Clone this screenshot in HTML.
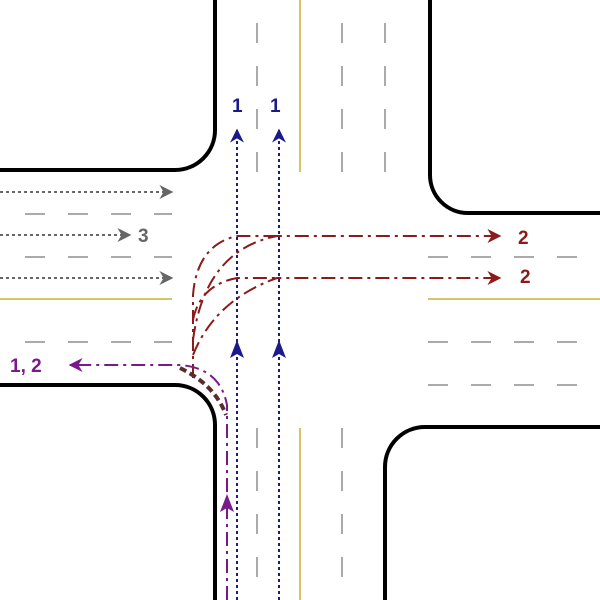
<!DOCTYPE html>
<html><head><style>body{margin:0;background:#fff}svg{display:block}</style></head><body>
<svg width="600" height="600" viewBox="0 0 600 600" xmlns="http://www.w3.org/2000/svg">
<defs>
<marker id="ab" viewBox="0 0 10 10" refX="9" refY="5" markerWidth="7" markerHeight="7" orient="auto"><path d="M0,0L10,5L0,10L3,5z" fill="#1a1a8c"/></marker>
<marker id="ag" viewBox="0 0 10 10" refX="9" refY="5" markerWidth="7" markerHeight="7" orient="auto"><path d="M0,0L10,5L0,10L3,5z" fill="#666"/></marker>
<marker id="ar" viewBox="0 0 10 10" refX="9" refY="5" markerWidth="7" markerHeight="7" orient="auto"><path d="M0,0L10,5L0,10L3,5z" fill="#8b1a1a"/></marker>
<marker id="ap" viewBox="0 0 10 10" refX="9" refY="5" markerWidth="7" markerHeight="7" orient="auto"><path d="M0,0L10,5L0,10L3,5z" fill="#7a1a8a"/></marker>
</defs>
<g fill="none" stroke="#000" stroke-width="4">
<path d="M215,0V130A40,40 0 0 1 175,170H0"/>
<path d="M430,0V175A38,38 0 0 0 468,213H600"/>
<path d="M0,385H175A40,40 0 0 1 215,425V600"/>
<path d="M385,600V467A40,40 0 0 1 425,427H600"/>
</g>
<g stroke="#aaa" stroke-width="2" stroke-dasharray="20,23">
<path d="M257,23V172M342,23V172M385,23V172"/>
<path d="M25,214H172M25,257H172M25,342H172"/>
<path d="M428,257H590M428,342H590M428,385H590"/>
<path d="M257,428V590M342,428V590"/>
</g>
<g stroke="#d4c46a" stroke-width="2">
<path d="M300,0V172M0,299H172M428,299H600M300,428V600"/>
</g>
<g stroke="#1a1a8c" stroke-width="2" stroke-dasharray="3,3" fill="none">
<path d="M237,600V130" marker-end="url(#ab)"/>
<path d="M279,600V130" marker-end="url(#ab)"/>
</g>
<path d="M230,358L237,340L244,358L237,354z" fill="#1a1a8c"/>
<path d="M272,358L279,340L286,358L279,354z" fill="#1a1a8c"/>
<g stroke="#666" stroke-width="2" stroke-dasharray="3,3" fill="none">
<path d="M0,192H172" marker-end="url(#ag)"/>
<path d="M0,235H130" marker-end="url(#ag)"/>
<path d="M0,278H172" marker-end="url(#ag)"/>
</g>
<g stroke="#8b1a1a" stroke-width="2" stroke-dasharray="14,5,3,5" fill="none">
<path d="M193,378V295Q197,245 237,236H277"/>
<path d="M193,340Q205,250 277,236H500" marker-end="url(#ar)"/>
<path d="M193,320Q200,285 237,278H277"/>
<path d="M193,355Q215,300 277,278H500" marker-end="url(#ar)"/>
</g>
<g stroke="#7a1a8a" stroke-width="2" stroke-dasharray="14,5,3,5" fill="none">
<path d="M227,600V405Q220,368 180,365H70" marker-end="url(#ap)"/>
</g>
<path d="M220,512L227,494L234,512L227,508z" fill="#7a1a8a"/>
<path d="M180,368Q215,385 226,415" stroke="#5a2d2d" stroke-width="4" stroke-dasharray="7,4" fill="none"/>
<g font-family="Liberation Sans,sans-serif" font-weight="bold" font-size="19">
<text x="232" y="112" fill="#1a1a8c">1</text>
<text x="270" y="112" fill="#1a1a8c">1</text>
<text x="138" y="242" fill="#666">3</text>
<text x="518" y="244" fill="#8b1a1a">2</text>
<text x="520" y="283" fill="#8b1a1a">2</text>
<text x="10" y="372" fill="#7a1a8a">1, 2</text>
</g>
</svg>
</body></html>
